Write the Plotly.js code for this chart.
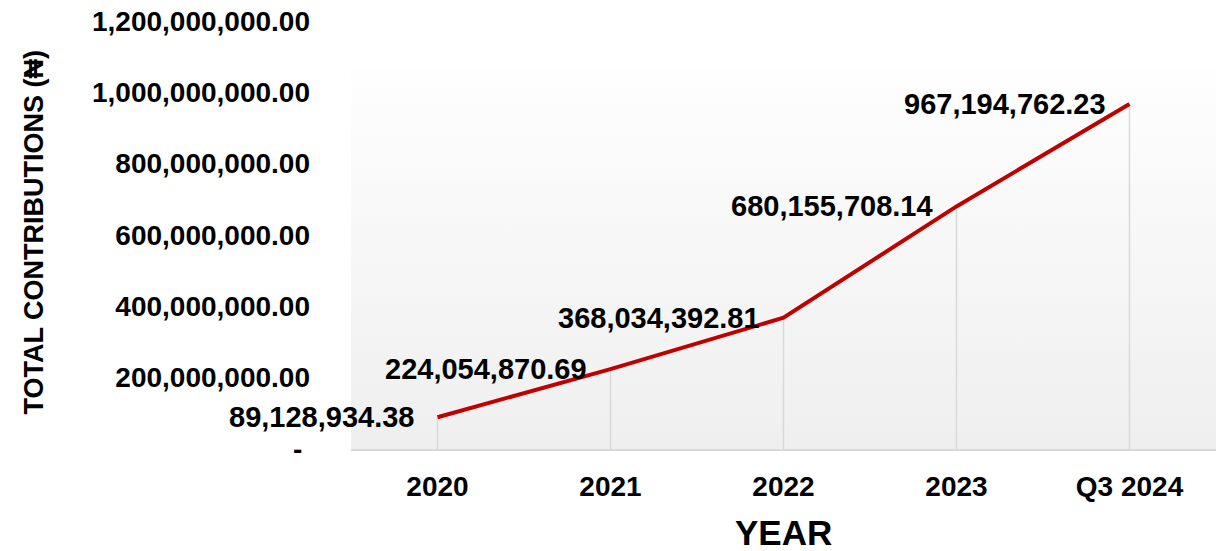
<!DOCTYPE html>
<html>
<head>
<meta charset="utf-8">
<script src="https://cdn.plot.ly/plotly-3.0.1.min.js"></script>
<style>html,body{margin:0;padding:0;background:#fff;}#chart{width:1222px;height:551px;}</style>
</head>
<body>
<div id="chart"></div>
<script>
const categories = ["2020", "2021", "2022", "2023", "Q3 2024"];
const contributions = [89128934.38, 224054870.69, 368034392.81, 680155708.14, 967194762.23];
const yTickValues = [0, 200000000, 400000000, 600000000, 800000000, 1000000000, 1200000000];
const yTickLabels = ["-\u00a0", "200,000,000.00", "400,000,000.00", "600,000,000.00", "800,000,000.00", "1,000,000,000.00", "1,200,000,000.00"];

const FONT = "Liberation Sans, Arial, sans-serif";
const fmt = v => v.toLocaleString("en-US", {minimumFractionDigits: 2, maximumFractionDigits: 2});

const gradSvg = '<svg xmlns="http://www.w3.org/2000/svg" width="10" height="100" preserveAspectRatio="none"><defs><linearGradient id="g" x1="0" y1="0" x2="0" y2="1"><stop offset="0" stop-color="#fefefe"/><stop offset="1" stop-color="#efefef"/></linearGradient></defs><rect width="10" height="100" fill="url(#g)"/></svg>';

const dropLines = {
  x: categories, y: contributions, type: "scatter", mode: "markers",
  marker: {size: 1, color: "rgba(0,0,0,0)"},
  error_y: {type: "data", symmetric: false, array: contributions.map(() => 0), arrayminus: contributions, color: "#d9d9d9", thickness: 1.5, width: 0},
  hoverinfo: "skip", showlegend: false
};
const line = {
  x: categories, y: contributions, type: "scatter", mode: "lines",
  line: {color: "#c00000", width: 4},
  showlegend: false
};

const annotations = categories.map((c, i) => ({
  x: i, y: contributions[i], xref: "x", yref: "y",
  text: fmt(contributions[i]), showarrow: false,
  xanchor: "right", yanchor: "middle", xshift: -22,
  font: {family: FONT, size: 29, color: "#000", weight: "bold"}
}));
annotations.push({
  text: "YEAR", xref: "paper", yref: "paper", x: 0.5, y: -0.196, xanchor: "center", yanchor: "middle",
  showarrow: false, font: {family: FONT, size: 35, color: "#000", weight: "bold"}
});
annotations.push({
  text: "TOTAL CONTRIBUTIONS (₦)", xref: "paper", yref: "paper", x: -0.366, y: 0.507, xanchor: "center", yanchor: "middle",
  textangle: -90, showarrow: false, font: {family: FONT, size: 27, color: "#000", weight: "bold"}
});

const layout = {
  width: 1222, height: 551,
  margin: {l: 351, r: 6, t: 21, b: 102},
  paper_bgcolor: "#ffffff", plot_bgcolor: "rgba(0,0,0,0)",
  font: {family: FONT, color: "#000"},
  showlegend: false,
  xaxis: {
    type: "category", range: [-0.5, 4.5], showgrid: false, zeroline: false,
    showline: true, linecolor: "#d9d9d9", linewidth: 2, ticks: "",
    tickfont: {family: FONT, size: 28, color: "#000", weight: "bold"},
    ticklabelstandoff: 11
  },
  yaxis: {
    range: [0, 1200000000], showgrid: false, zeroline: false, showline: false, ticks: "",
    tickmode: "array", tickvals: yTickValues, ticktext: yTickLabels,
    tickfont: {family: FONT, size: 28, color: "#000", weight: "bold"},
    ticklabelstandoff: 40
  },
  images: [{
    source: "data:image/svg+xml;charset=utf-8," + encodeURIComponent(gradSvg),
    xref: "paper", yref: "paper", x: 0, y: 0.888, sizex: 1, sizey: 0.888,
    xanchor: "left", yanchor: "top", sizing: "stretch", layer: "below"
  }],
  annotations: annotations
};

Plotly.newPlot("chart", [dropLines, line], layout, {displayModeBar: false, staticPlot: true});
</script>
</body>
</html>
